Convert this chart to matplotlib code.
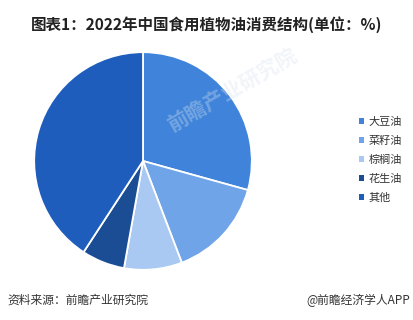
import matplotlib
matplotlib.use("Agg")
import matplotlib.pyplot as plt
from matplotlib.patches import Patch

plt.rcParams['font.family'] = ['Noto Sans CJK SC', 'DejaVu Sans']

categories = ['大豆油', '菜籽油', '棕榈油', '花生油', '其他']
shares = [29.3, 14.9, 8.6, 6.4, 40.8]
colors = ['#3f84da', '#6fa4e8', '#a9c9f3', '#1b4d95', '#1f5dbd']

title = '图表1：2022年中国食用植物油消费结构(单位：%)'
source = '资料来源：前瞻产业研究院'
credit = '@前瞻经济学人APP'

fig = plt.figure(figsize=(4.14, 3.2), dpi=100)
fig.patch.set_facecolor('white')

W, H = 414, 320
cx, cy, r = 143, 161, 111
ax = fig.add_axes([(cx - r) / W, (H - cy - r) / H, 2 * r / W, 2 * r / H])
ax.pie(shares, colors=colors, startangle=90, counterclock=False,
       radius=1.0, wedgeprops=dict(edgecolor='white', linewidth=1.3))
ax.set_xlim(-1.02, 1.02)
ax.set_ylim(-1.02, 1.02)
ax.axis('off')

# faint watermark
fig.text(0.56, 0.72, '前瞻产业研究院', fontsize=15, color='#d8e2ef',
         alpha=0.35, rotation=30, ha='center', va='center',
         fontweight='bold')

handles = [Patch(facecolor=c, edgecolor='none') for c in colors]
fig.legend(handles, categories, loc='center left',
           bbox_to_anchor=(0.843, 0.5), frameon=False, fontsize=8,
           handlelength=0.45, handleheight=0.45, handletextpad=0.4,
           labelspacing=0.8, labelcolor='#333333')

fig.text(0.5, 0.922, title, ha='center', va='center', fontsize=11.2,
         fontweight='bold', color='#222222')
fig.text(0.018, 0.062, source, ha='left', va='center', fontsize=8.5,
         color='#333333')
fig.text(0.99, 0.062, credit, ha='right', va='center', fontsize=8.5,
         color='#333333')

fig.savefig('out.png', dpi=100, facecolor='white')
